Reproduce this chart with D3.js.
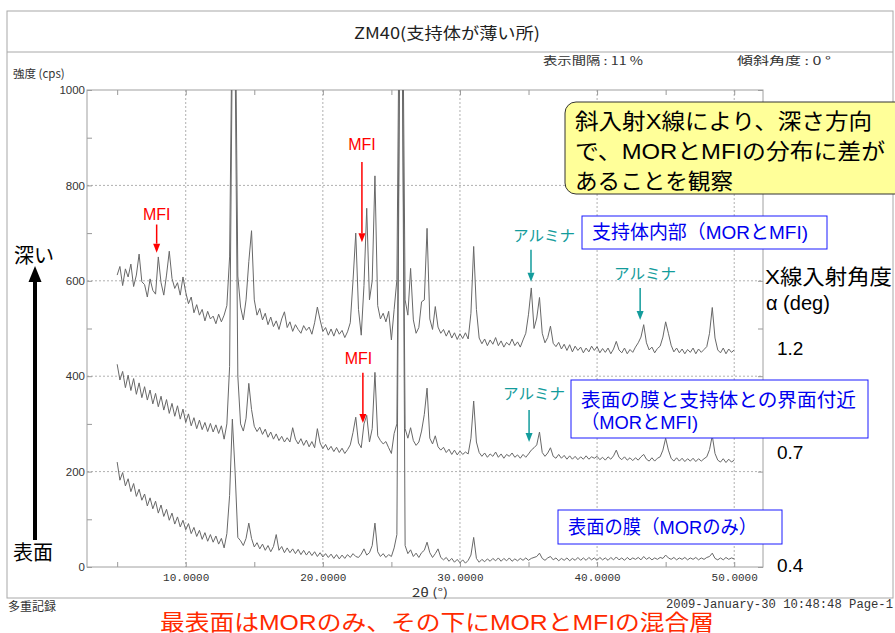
<!DOCTYPE html>
<html>
<head>
<meta charset="utf-8">
<script src="https://cdn.jsdelivr.net/npm/d3@7"></script>
<style>
  body { margin: 0; background: #fff; }
  svg { display: block; }
</style>
</head>
<body>
<div id="chart"></div>
<script>
// 2θ sampling of the scans: 5.0° .. 50.0°, every 0.2°
const thetaStart = 5
const thetaStep = 0.2

// X-ray incidence angle 1.2 deg (support interior)
const scan12 = [
  612, 630, 590, 625, 608, 635, 588, 612, 656, 598,
  592, 566, 604, 580, 572, 650, 596, 570, 612, 662,
  605, 584, 596, 570, 608, 576, 552, 566, 533, 550,
  528, 540, 516, 536, 520, 526, 510, 530, 514, 528,
  548, 650, 1200, 1250, 610, 545, 518, 560, 640, 705,
  560, 528, 542, 518, 532, 508, 524, 504, 516, 498,
  520, 535, 502, 514, 494, 508, 498, 490, 506, 496,
  503, 488, 512, 545, 518, 494, 502, 486, 499, 484,
  500, 488, 496, 481, 493, 512, 600, 700, 540, 486,
  590, 752, 560, 600, 820, 548, 520, 532, 514, 536,
  476, 540, 602, 1300, 1300, 560, 528, 626, 518, 490,
  502, 556, 560, 710, 520, 498, 546, 503, 490, 498,
  484, 496, 480, 491, 477, 489, 479, 491, 478, 532,
  672, 540, 480, 468, 478, 464, 476, 467, 481, 464,
  474, 461, 471, 465, 478, 464, 472, 461, 476, 490,
  530, 585, 500, 522, 565, 490, 470, 481, 505, 469,
  462, 471, 457, 467, 454, 466, 451, 463, 454, 461,
  449, 459, 451, 463, 454, 462, 449, 458, 450, 459,
  447, 457, 473, 455, 449, 459, 447, 456, 450, 461,
  470, 482, 508, 470, 455, 461, 449, 458, 463, 482,
  514, 490, 465, 451, 459, 449, 457, 447, 456, 450,
  459, 447, 457, 450, 456, 462, 490, 544, 480, 455,
  449, 459, 447, 457, 450, 455
]

// 0.7 deg (film / support interface)
const scan07 = [
  425, 392, 410, 376, 402, 370, 395, 362, 386, 355,
  378, 350, 371, 342, 364, 336, 358, 329, 351, 322,
  343, 316, 338, 310, 331, 303, 321, 296, 313, 290,
  308, 288, 303, 284, 301, 283, 298, 280, 296, 268,
  300, 420, 1100, 1080, 400, 300, 285, 312, 385, 330,
  295, 284, 293, 278, 289, 272, 283, 268, 279, 265,
  274, 262, 271, 262, 292, 268, 258, 269, 255, 266,
  252, 263, 250, 290, 260, 248, 257, 245, 253, 242,
  251, 240, 249, 238, 246, 256, 282, 314, 260, 250,
  300, 318, 262, 290, 408, 275, 265, 258, 263, 250,
  238, 280, 300, 1100, 1080, 290, 270, 292, 265, 255,
  262, 285, 320, 375, 270, 258, 275, 252, 245, 251,
  240, 247, 236, 245, 235, 243, 236, 241, 237, 270,
  348, 262, 240, 232, 239, 230, 237, 232, 241, 230,
  237, 228, 236, 232, 239, 230, 235, 228, 236, 230,
  237, 245, 250, 256, 283, 240, 232, 239, 250, 232,
  228, 236, 228, 234, 226, 233, 226, 232, 225, 231,
  226, 233, 226, 231, 228, 232, 225, 230, 224, 231,
  226, 233, 245, 230, 225, 231, 224, 229, 223, 229,
  224, 231, 236, 226, 222, 229, 222, 228, 231, 245,
  270, 245, 228, 222, 229, 222, 228, 221, 227, 222,
  228, 221, 227, 222, 227, 231, 246, 275, 238, 224,
  220, 227, 219, 226, 220, 224
]

// 0.4 deg (surface film, MOR only)
const scan04 = [
  220, 182, 198, 170, 185, 158, 175, 148, 163, 140,
  153, 128, 145, 122, 138, 113, 130, 106, 121, 98,
  113, 90, 105, 84, 98, 78, 91, 70, 83, 64,
  77, 58, 72, 54, 68, 52, 65, 48, 60, 40,
  70, 150, 310, 200, 62, 55, 45, 60, 92, 60,
  42, 51, 38, 48, 35, 45, 32, 43, 68, 35,
  43, 30, 40, 30, 38, 28, 37, 26, 35, 25,
  33, 24, 32, 22, 30, 21, 28, 20, 27, 18,
  26, 17, 25, 18, 26, 20, 28, 22, 20, 27,
  38, 25, 30, 45, 92, 32, 22, 28, 20, 26,
  22, 40, 68, 1100, 1080, 45, 28, 36, 22, 29,
  20, 30, 35, 52, 30, 20, 28, 38, 20, 15,
  20, 12, 18, 10, 16, 9, 15, 8, 14, 25,
  62, 18, 10, 16, 11, 17, 12, 18, 13, 19,
  12, 18, 13, 19, 12, 17, 13, 18, 14, 19,
  14, 18, 20, 22, 29, 18, 14, 19, 22, 15,
  19, 13, 18, 14, 19, 13, 18, 14, 20, 14,
  19, 14, 20, 15, 19, 14, 20, 15, 19, 14,
  20, 15, 21, 15, 19, 14, 20, 15, 19, 16,
  20, 15, 22, 16, 20, 15, 19, 16, 20, 18,
  25, 19, 16, 20, 15, 19, 16, 20, 15, 19,
  16, 20, 15, 19, 16, 20, 22, 29, 18, 15,
  19, 15, 20, 16, 19, 17
]

const angleLabels = ['1.2', '0.7', '0.4']
const yTickValues = [0, 100, 200, 300, 400, 500, 600, 700, 800, 900, 1000]
const yGridValues = [200, 400, 600, 800]
const xTickValues = [5, 10, 15, 20, 25, 30, 35, 40, 45, 50]
const xGridValues = [10, 20, 30, 40, 50]

// arrows pointing at peaks: [label, 2θ of arrow, text 2θ, text cps, arrow from cps, arrow to cps]
const mfiMarks = [
  ['MFI', 7.88, 7.88, 738, 718, 659],
  ['MFI', 22.85, 22.85, 885, 849, 681],
  ['MFI', 22.92, 22.6, 438, 407, 302]
]
const aluminaMarks = [
  ['アルミナ', 35.18, 36.13, 694, 665, 598],
  ['アルミナ', 43.14, 43.5, 616, 585, 518],
  ['アルミナ', 35.04, 35.4, 363, 329, 262]
]

const width = 895
const height = 633
const plot = { left: 87, right: 763, top: 90, bottom: 567 }

const jp = "'Liberation Sans', 'Noto Sans CJK JP', sans-serif"
const jpPrint = "'Noto Sans CJK JP', sans-serif"
const mono = "'Liberation Mono', 'DejaVu Sans Mono', monospace"

const svg = d3
  .select('#chart')
  .append('svg')
  .attr('width', width)
  .attr('height', height)

const xScale = d3.scaleLinear().domain([2.8, 52.1]).range([plot.left, plot.right])
const yScale = d3.scaleLinear().domain([0, 1000]).range([plot.bottom, plot.top])

// outer frame of the printout
svg.append('rect')
  .attr('x', 7).attr('y', 11)
  .attr('width', 886).attr('height', 587)
  .attr('fill', 'none').attr('stroke', '#a8a8a8')
svg.append('line')
  .attr('x1', 7).attr('x2', 893).attr('y1', 52).attr('y2', 52)
  .attr('stroke', '#a8a8a8')

svg.append('text')
  .text('ZM40(支持体が薄い所)')
  .attr('x', 447).attr('y', 32)
  .attr('text-anchor', 'middle').attr('dominant-baseline', 'central')
  .attr('font-family', jpPrint).attr('font-size', 16)
  .attr('textLength', 186).attr('lengthAdjust', 'spacingAndGlyphs')
  .attr('fill', '#222')

svg.append('text')
  .text('表示間隔 : 11 %')
  .attr('x', 543).attr('y', 60)
  .attr('dominant-baseline', 'central')
  .attr('font-family', jpPrint).attr('font-size', 11.5)
  .attr('textLength', 100).attr('lengthAdjust', 'spacingAndGlyphs')
  .attr('fill', '#333')
svg.append('text')
  .text('傾斜角度 : 0 °')
  .attr('x', 737).attr('y', 60)
  .attr('dominant-baseline', 'central')
  .attr('font-family', jpPrint).attr('font-size', 11.5)
  .attr('textLength', 94).attr('lengthAdjust', 'spacingAndGlyphs')
  .attr('fill', '#333')
svg.append('text')
  .text('強度 (cps)')
  .attr('x', 13).attr('y', 73)
  .attr('dominant-baseline', 'central')
  .attr('font-family', jpPrint).attr('font-size', 11.5)
  .attr('fill', '#333')

// gridlines
svg.append('g')
  .selectAll('line')
  .data(yGridValues)
  .enter()
  .append('line')
  .attr('x1', plot.left).attr('x2', plot.right)
  .attr('y1', d => yScale(d)).attr('y2', d => yScale(d))
  .attr('stroke', '#b0b0b0').attr('stroke-dasharray', '2,2')

svg.append('g')
  .selectAll('line')
  .data(xGridValues)
  .enter()
  .append('line')
  .attr('x1', d => xScale(d)).attr('x2', d => xScale(d))
  .attr('y1', plot.top).attr('y2', plot.bottom)
  .attr('stroke', '#b0b0b0').attr('stroke-dasharray', '2,2')

// axes
const yAxis = d3.axisLeft(yScale)
  .tickValues(yTickValues)
  .tickSize(-5)
  .tickPadding(2)
  .tickFormat(d => (d % 200 === 0 ? d : ''))
svg.append('g')
  .attr('transform', `translate(${plot.left},0)`)
  .call(yAxis)
  .call(g => g.select('.domain').remove())
  .call(g => g.selectAll('line').attr('stroke', '#999'))
  .call(g => g.selectAll('text')
    .attr('font-family', "'Liberation Sans', sans-serif")
    .attr('font-size', 11.5).attr('fill', '#333'))

svg.append('g')
  .attr('transform', `translate(${plot.right},0)`)
  .call(d3.axisRight(yScale).tickValues(yTickValues).tickSize(-5).tickFormat(''))
  .call(g => g.select('.domain').remove())
  .call(g => g.selectAll('line').attr('stroke', '#999'))

const xAxis = d3.axisBottom(xScale)
  .tickValues(xTickValues)
  .tickSize(-5)
  .tickPadding(6)
  .tickFormat(d => (d % 10 === 0 ? d3.format('.4f')(d) : ''))
svg.append('g')
  .attr('transform', `translate(0,${plot.bottom})`)
  .call(xAxis)
  .call(g => g.select('.domain').remove())
  .call(g => g.selectAll('line').attr('stroke', '#999'))
  .call(g => g.selectAll('text')
    .attr('font-family', mono)
    .attr('font-size', 11).attr('fill', '#333'))

svg.append('g')
  .attr('transform', `translate(0,${plot.top})`)
  .call(d3.axisTop(xScale).tickValues(xTickValues).tickSize(-5).tickFormat(''))
  .call(g => g.select('.domain').remove())
  .call(g => g.selectAll('line').attr('stroke', '#999'))

svg.append('rect')
  .attr('x', plot.left).attr('y', plot.top)
  .attr('width', plot.right - plot.left).attr('height', plot.bottom - plot.top)
  .attr('fill', 'none').attr('stroke', '#a0a0a0')

svg.append('text')
  .text('2θ (°)')
  .attr('x', 430).attr('y', 591)
  .attr('text-anchor', 'middle').attr('dominant-baseline', 'central')
  .attr('font-family', jpPrint).attr('font-size', 12)
  .attr('textLength', 36).attr('lengthAdjust', 'spacingAndGlyphs')
  .attr('fill', '#333')

// the three scans
svg.append('clipPath')
  .attr('id', 'plot-clip')
  .append('rect')
  .attr('x', plot.left).attr('y', plot.top)
  .attr('width', plot.right - plot.left).attr('height', plot.bottom - plot.top)

const line = d3.line()
  .x((d, i) => xScale(thetaStart + i * thetaStep))
  .y(d => yScale(d))

svg.append('g')
  .attr('clip-path', 'url(#plot-clip)')
  .selectAll('path')
  .data([scan12, scan07, scan04])
  .enter()
  .append('path')
  .attr('d', line)
  .attr('fill', 'none')
  .attr('stroke', '#686868')
  .attr('stroke-width', 1)
  .attr('stroke-linejoin', 'round')

// footer
svg.append('text')
  .text('多重記録')
  .attr('x', 8).attr('y', 605)
  .attr('dominant-baseline', 'central')
  .attr('font-family', jpPrint).attr('font-size', 12)
  .attr('fill', '#333')
svg.append('text')
  .text('2009-January-30 10:48:48 Page-1')
  .attr('x', 893).attr('y', 605)
  .attr('text-anchor', 'end').attr('dominant-baseline', 'central')
  .attr('font-family', mono).attr('font-size', 12)
  .attr('textLength', 227).attr('lengthAdjust', 'spacingAndGlyphs')
  .attr('fill', '#333')

svg.append('text')
  .text('最表面はMORのみ、その下にMORとMFIの混合層')
  .attr('x', 437).attr('y', 622)
  .attr('text-anchor', 'middle').attr('dominant-baseline', 'central')
  .attr('font-family', jp).attr('font-size', 22)
  .attr('textLength', 554).attr('lengthAdjust', 'spacingAndGlyphs')
  .attr('fill', '#ff2a00')

// arrow helper (vertical, pointing down or up)
function drawArrow(x, y1, y2, color, shaft, head, headLen) {
  const dir = y2 > y1 ? 1 : -1
  const g = svg.append('g')
  g.append('line')
    .attr('x1', x).attr('x2', x)
    .attr('y1', y1).attr('y2', y2 - dir * headLen)
    .attr('stroke', color).attr('stroke-width', shaft)
  g.append('path')
    .attr('d', `M${x - head / 2},${y2 - dir * headLen}L${x + head / 2},${y2 - dir * headLen}L${x},${y2}Z`)
    .attr('fill', color)
}

mfiMarks.forEach(d => {
  svg.append('text')
    .text(d[0])
    .attr('x', xScale(d[2])).attr('y', yScale(d[3]))
    .attr('text-anchor', 'middle').attr('dominant-baseline', 'central')
    .attr('font-family', jp).attr('font-size', 16)
    .attr('fill', '#ff0000')
  drawArrow(xScale(d[1]), yScale(d[4]), yScale(d[5]), '#ff0000', 1.5, 7, 9)
})

aluminaMarks.forEach(d => {
  svg.append('text')
    .text(d[0])
    .attr('x', xScale(d[2])).attr('y', yScale(d[3]))
    .attr('text-anchor', 'middle').attr('dominant-baseline', 'central')
    .attr('font-family', jp).attr('font-size', 15)
    .attr('textLength', 62).attr('lengthAdjust', 'spacingAndGlyphs')
    .attr('fill', '#139c9c')
  drawArrow(xScale(d[1]), yScale(d[4]), yScale(d[5]), '#139c9c', 1.5, 7, 9)
})

// depth arrow on the left
svg.append('text')
  .text('深い')
  .attr('x', 14).attr('y', 256)
  .attr('dominant-baseline', 'central')
  .attr('font-family', jp).attr('font-size', 20)
  .attr('fill', '#000')
svg.append('text')
  .text('表面')
  .attr('x', 13).attr('y', 553)
  .attr('dominant-baseline', 'central')
  .attr('font-family', jp).attr('font-size', 20)
  .attr('fill', '#000')
drawArrow(35, 540, 266, '#000', 4, 13, 16)

// right side angle labels
svg.append('text')
  .text('X線入射角度')
  .attr('x', 765).attr('y', 276)
  .attr('dominant-baseline', 'central')
  .attr('font-family', jp).attr('font-size', 21)
  .attr('textLength', 127).attr('lengthAdjust', 'spacingAndGlyphs')
  .attr('fill', '#000')
svg.append('text')
  .text('α (deg)')
  .attr('x', 766).attr('y', 303)
  .attr('dominant-baseline', 'central')
  .attr('font-family', jp).attr('font-size', 20)
  .attr('fill', '#000')

svg.append('g')
  .selectAll('text')
  .data(angleLabels)
  .enter()
  .append('text')
  .text(d => d)
  .attr('x', 777)
  .attr('y', (d, i) => [348, 452, 565][i])
  .attr('dominant-baseline', 'central')
  .attr('font-family', jp).attr('font-size', 19)
  .attr('fill', '#000')

// yellow comment box
svg.append('rect')
  .attr('x', 565).attr('y', 102)
  .attr('width', 345).attr('height', 92)
  .attr('rx', 11)
  .attr('fill', '#ffff99').attr('stroke', '#333').attr('stroke-width', 1)
const noteLines = ['斜入射X線により、深さ方向', 'で、MORとMFIの分布に差が', 'あることを観察']
svg.append('g')
  .selectAll('text')
  .data(noteLines)
  .enter()
  .append('text')
  .text(d => d)
  .attr('x', 575)
  .attr('y', (d, i) => 121 + i * 30)
  .attr('dominant-baseline', 'central')
  .attr('font-family', jp).attr('font-size', 22)
  .attr('textLength', (d, i) => [297, 310, 158][i])
  .attr('lengthAdjust', 'spacingAndGlyphs')
  .attr('fill', '#000')

// blue region boxes
const blueBoxes = [
  { x: 582, y: 216, w: 245, h: 33, lines: ['支持体内部（MORとMFI)'], lens: [216] },
  { x: 571, y: 380, w: 297, h: 58, lines: ['表面の膜と支持体との界面付近', '（MORとMFI)'], lens: [275, 117] },
  { x: 558, y: 510, w: 224, h: 34, lines: ['表面の膜（MORのみ）'], lens: [189] }
]
blueBoxes.forEach(b => {
  svg.append('rect')
    .attr('x', b.x).attr('y', b.y)
    .attr('width', b.w).attr('height', b.h)
    .attr('fill', '#fff').attr('stroke', '#1a1aff').attr('stroke-width', 1)
  b.lines.forEach((t, i) => {
    svg.append('text')
      .text(t)
      .attr('x', b.x + 10)
      .attr('y', b.lines.length === 1 ? b.y + b.h / 2 : b.y + 20 + i * 22)
      .attr('dominant-baseline', 'central')
      .attr('font-family', jp).attr('font-size', 19)
      .attr('textLength', b.lens[i]).attr('lengthAdjust', 'spacingAndGlyphs')
      .attr('fill', '#0000ee')
  })
})
</script>
</body>
</html>
